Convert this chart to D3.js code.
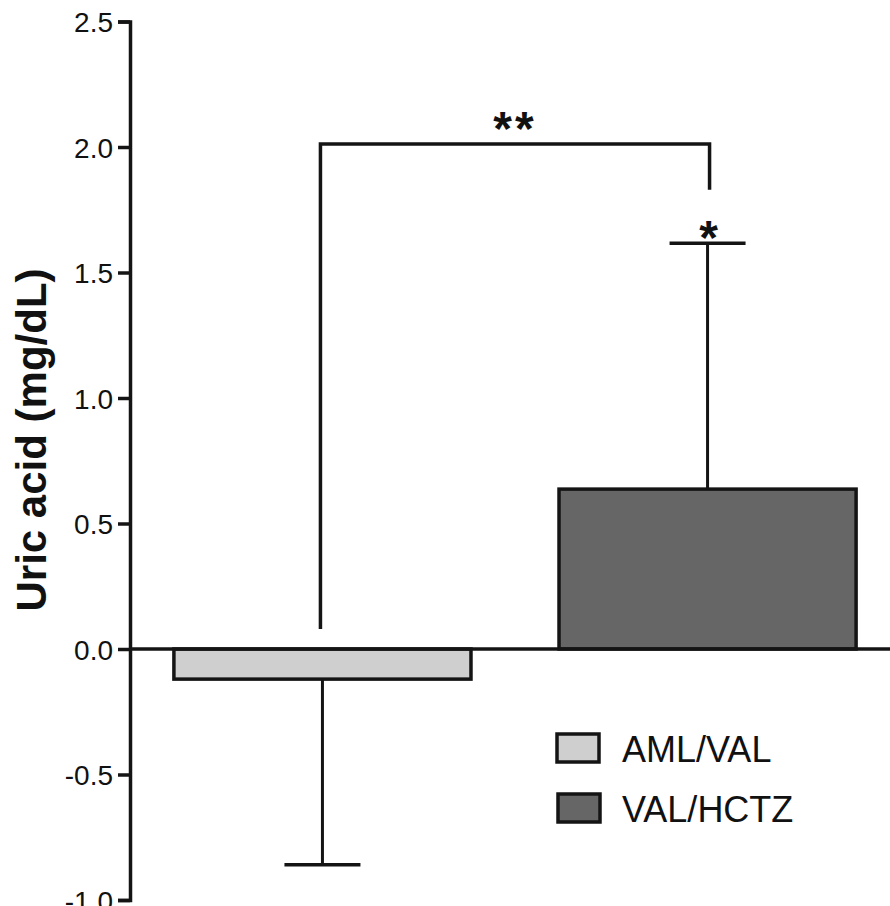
<!DOCTYPE html>
<html><head><meta charset="utf-8">
<script src="https://cdn.jsdelivr.net/npm/d3@7"></script>
<style>body{margin:0;background:#fff}svg{display:block}text{font-family:"Liberation Sans",Arial,sans-serif;fill:#111}</style>
</head><body>
<script>
const categories = ["AML/VAL", "VAL/HCTZ"];
const means = [-0.12, 0.637];
const errors = [0.74, 0.98];
const colors = ["#cfcfcf", "#666666"];
const yTicks = [-1.0, -0.5, 0.0, 0.5, 1.0, 1.5, 2.0, 2.5];
const bracketLevels = [0.08, 2.012, 1.83]; // left foot, top, right foot
const sigLabels = ["**", "*"];

const W = 890, H = 906;
const svg = d3.select("body").append("svg").attr("width", W).attr("height", H);

const y = d3.scaleLinear().domain([-1, 2.5]).range([900, 21.5]);
const x = d3.scaleBand().domain(categories).range([130, 900]).paddingInner(0.2286).paddingOuter(0.114);
const ink = "#141414";

// bars
svg.selectAll("rect.bar").data(categories).join("rect")
  .attr("x", d => x(d)).attr("width", x.bandwidth())
  .attr("y", (d,i) => y(Math.max(0, means[i])))
  .attr("height", (d,i) => Math.abs(y(means[i]) - y(0)))
  .attr("fill", (d,i) => colors[i]).attr("stroke", ink).attr("stroke-width", 3.5);

// error bars
const capW = 76;
categories.forEach((c,i) => {
  const cx = x(c) + x.bandwidth()/2;
  const end = means[i] + Math.sign(means[i]) * errors[i];
  svg.append("line").attr("x1", cx).attr("x2", cx).attr("y1", y(means[i])).attr("y2", y(end))
    .attr("stroke", ink).attr("stroke-width", 3);
  svg.append("line").attr("x1", cx - capW/2).attr("x2", cx + capW/2).attr("y1", y(end)).attr("y2", y(end))
    .attr("stroke", ink).attr("stroke-width", 3.5);
});

// zero line
svg.append("line").attr("x1", 130).attr("x2", W).attr("y1", y(0)).attr("y2", y(0))
  .attr("stroke", ink).attr("stroke-width", 3.5);

// y axis
const fmt = d => d3.format(".1f")(d).replace("\u2212", "-");
const yAxis = d3.axisLeft(y).tickValues(yTicks).tickFormat(fmt).tickSizeOuter(0).tickSize(12).tickPadding(5);
const gy = svg.append("g").attr("transform", "translate(130,0)").call(yAxis);
gy.select(".domain").attr("stroke", ink).attr("stroke-width", 3.5);
gy.selectAll(".tick line").attr("stroke", ink).attr("stroke-width", 3.5);
gy.selectAll(".tick text").attr("font-size", 28).attr("font-family", '"Liberation Sans",Arial,sans-serif').attr("fill", "#111").attr("dy", "0.36em");

// y label
svg.append("text").attr("transform", `translate(46,${440}) rotate(-90)`)
  .attr("text-anchor", "middle").attr("font-size", 42).attr("font-weight", "bold").text("Uric acid (mg/dL)");

// significance bracket
const lx = x(categories[0]) + x.bandwidth()/2 - 2;
const rx = x(categories[1]) + x.bandwidth()/2 + 2;
svg.append("path")
  .attr("d", `M${lx},${y(bracketLevels[0])}V${y(bracketLevels[1])}H${rx}V${y(bracketLevels[2])}`)
  .attr("fill", "none").attr("stroke", ink).attr("stroke-width", 3.5);
svg.append("text").attr("x", (lx+rx)/2).attr("y", y(bracketLevels[1]) + 6).attr("text-anchor", "middle")
  .attr("font-size", 48).attr("font-weight", "bold").attr("letter-spacing", 3).text(sigLabels[0]).attr("dy", "-0.1em");
svg.append("text").attr("x", rx - 1).attr("y", y(means[1] + errors[1]) + 16).attr("text-anchor", "middle")
  .attr("font-size", 48).attr("font-weight", "bold").text(sigLabels[1]).attr("dy", "-0.1em");

// legend
const lg = svg.append("g");
categories.forEach((c,i) => {
  const yy = 733 + i*60;
  lg.append("rect").attr("x", 557 + i*1).attr("y", yy + 1).attr("width", 42).attr("height", 28)
    .attr("fill", colors[i]).attr("stroke", ink).attr("stroke-width", 3.5);
  lg.append("text").attr("x", 622).attr("y", yy + 29).attr("font-size", 36).text(c);
});
</script>
</body></html>
